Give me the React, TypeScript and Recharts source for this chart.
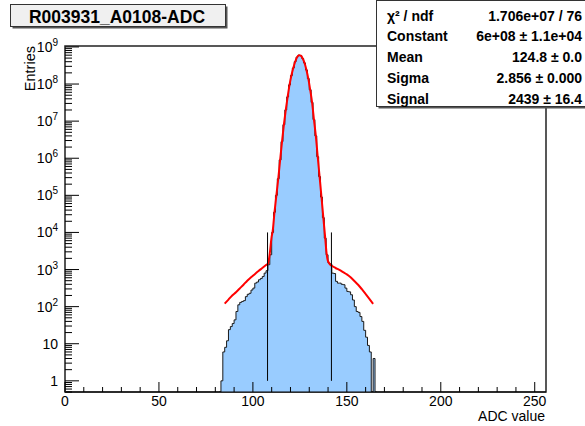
import React from "react";
import {
  ComposedChart,
  Area,
  Line,
  XAxis,
  YAxis,
  ReferenceLine,
  ReferenceArea,
} from "recharts";

const FONT = '"Liberation Sans", Arial, Helvetica, sans-serif';
const W = 585;
const H = 426;

const X_MIN = 0;
const X_MAX = 256;
const Y_MIN = 0.5;
const Y_MAX = 1.06e9;

// ADC histogram: one entry per 1-count bin, first bin starts at FIRST_BIN
const FIRST_BIN = 82;
const binEntries = [
  0, 1, 6, 8, 12, 24, 29, 35, 44, 74, // 82-91
  112, 130, 138, 145, 186, 215, 229, 280, 316, 430, // 92-101
  460, 530, 575, 650, 800, 930, 1350, 2500, 10000, 35000, // 102-111
  1.0e5, 2.8e5, 9e5, 2.8e6, 8e6, 2e7, 4.5e7, 9.5e7, 1.7e8, 2.7e8, // 112-121
  4.0e8, 5.3e8, 6.0e8, 5.8e8, 4.9e8, 3.7e8, 2.4e8, 1.4e8, 7e7, 3.2e7, // 122-131
  1.1e7, 4e6, 1.1e6, 3.2e5, 9e4, 2.5e4, 7000, 2500, 1500, 1400, // 132-141
  800, 780, 480, 430, 430, 400, 390, 316, 257, 250, // 142-151
  209, 151, 100, 74, 70, 54, 40, 23, 15, 9, // 152-161
  6, 0, 4, 0, // 162-165
];

// red fit curve (gaus + background)
const fitAdc = [
  85, 87, 89, 91, 93, 95, 97, 99, 101, 103, 105, 107, 108, 108.5, 109, 110,
  110.5, 111.5, 112.5, 113.5, 114.5, 115.5, 116.5, 117.5, 118.5, 119.5, 120.5,
  121.5, 122.5, 123.5, 124.5, 125.5, 126.5, 127.5, 128.5, 129.5, 130.5, 131.5,
  132.5, 133.5, 134.5, 135.5, 136.5, 137.5, 138.5, 139.2, 139.7, 140.5, 142,
  144, 146, 148, 150, 152, 154, 156, 158, 160, 162, 164,
];
const fitEntries = [
  120, 155, 200, 245, 309, 389, 500, 617, 750, 912, 1096, 1318, 1445, 1820, 2750, 7800,
  1.05e4, 3.5e4, 1.0e5, 2.8e5, 9e5, 2.8e6, 8e6, 2e7, 4.5e7, 9.5e7, 1.7e8,
  2.7e8, 4.0e8, 5.3e8, 6.0e8, 5.8e8, 4.9e8, 3.7e8, 2.4e8, 1.4e8, 7e7, 3.2e7,
  1.1e7, 4e6, 1.1e6, 3.2e5, 9e4, 2.5e4, 7000, 2800, 1900, 1500, 1260,
  1100, 977, 851, 741, 617, 490, 389, 295, 219, 162, 119,
];

// signal window markers
const windowAdc = [107.8, 141.8];
const windowEntries = [1, 1e4];

const xTicks = [0, 10, 20, 30, 40, 50, 60, 70, 80, 90, 100, 110, 120, 130, 140, 150, 160, 170, 180, 190, 200, 210, 220, 230, 240, 250];

const statsRows = [
  ["χ² / ndf", "1.706e+07 / 76"],
  ["Constant", "6e+08 ± 1.1e+04"],
  ["Mean", "124.8 ± 0.0"],
  ["Sigma", "2.856 ± 0.000"],
  ["Signal", "2439 ± 16.4"],
];

const yTicks: number[] = [];
for (let e = -1; e <= 9; e++) {
  for (let m = 1; m <= 9; m++) {
    const v = m * Math.pow(10, e);
    if (v >= Y_MIN && v <= Y_MAX) yTicks.push(v);
  }
}

const floor = (v: number) => (v > 0 ? v : Y_MIN);

const histData = [
  ...binEntries.map((c, i) => ({ x: FIRST_BIN + i, count: floor(c) })),
  { x: FIRST_BIN + binEntries.length, count: Y_MIN },
];
const fitData = fitAdc.map((x, i) => ({ x, fit: fitEntries[i] }));

function XTick(props: any) {
  const { x, y, payload } = props;
  const v = payload.value;
  const major = v % 50 === 0;
  return (
    <g>
      <line x1={x} x2={x} y1={y} y2={y - (major ? 10 : 5)} stroke="#000" strokeWidth={1} />
      {major && (
        <text x={x} y={y + 14} textAnchor="middle" fontSize={14} fontFamily={FONT} fill="#000">
          {v}
        </text>
      )}
    </g>
  );
}

function YTick(props: any) {
  const { x, y, payload } = props;
  const v = payload.value;
  const lg = Math.log10(v);
  const e = Math.round(lg);
  const major = Math.abs(lg - e) < 1e-6;
  return (
    <g>
      <line x1={x} x2={x + (major ? 14 : 7)} y1={y} y2={y} stroke="#000" strokeWidth={1} />
      {major && (
        <text x={x - 7} y={y + 5} textAnchor="end" fontSize={14} fontFamily={FONT} fill="#000">
          {e < 2 ? String(v) : (
            <>
              <tspan>10</tspan>
              <tspan dy={-6} fontSize={10}>{e}</tspan>
            </>
          )}
        </text>
      )}
    </g>
  );
}

export default function App() {
  return (
    <div style={{ position: "absolute", left: 0, top: 0, width: W, height: H, background: "#fff", fontFamily: FONT }}>
      <ComposedChart width={W} height={H} margin={{ top: 46, right: 39, bottom: 4, left: 5 }}>
        <ReferenceArea
          x1={X_MIN}
          x2={X_MAX}
          y1={Y_MIN}
          y2={Y_MAX}
          fill="none"
          stroke="#222"
          strokeWidth={1.5}
          ifOverflow="extendDomain"
        />
        <Area
          data={histData}
          dataKey="count"
          type="stepAfter"
          baseValue={Y_MIN}
          stroke="#1a1a1a"
          strokeWidth={1}
          fill="#99ccff"
          fillOpacity={1}
          dot={false}
          activeDot={false}
          isAnimationActive={false}
        />
        <Line
          data={fitData}
          dataKey="fit"
          type="monotone"
          stroke="#ff0000"
          strokeWidth={2}
          dot={false}
          activeDot={false}
          isAnimationActive={false}
        />
        {windowAdc.map((a) => (
          <ReferenceLine
            key={a}
            segment={[
              { x: a, y: windowEntries[0] },
              { x: a, y: windowEntries[1] },
            ]}
            stroke="#000"
            strokeWidth={1}
          />
        ))}
        <XAxis
          dataKey="x"
          type="number"
          domain={[X_MIN, X_MAX]}
          allowDataOverflow
          ticks={xTicks}
          interval={0}
          tick={<XTick />}
          tickLine={false}
          tickSize={0}
          tickMargin={0}
          axisLine={{ stroke: "#000", strokeWidth: 1 }}
          height={30}
        />
        <YAxis
          type="number"
          scale="log"
          domain={[Y_MIN, Y_MAX]}
          allowDataOverflow
          ticks={yTicks}
          interval={0}
          tick={<YTick />}
          tickLine={false}
          tickSize={0}
          tickMargin={0}
          axisLine={{ stroke: "#555", strokeWidth: 1.5 }}
          width={60}
        />
      </ComposedChart>
      <svg width={W} height={H} style={{ position: "absolute", left: 0, top: 0, pointerEvents: "none" }}>
        {/* title box */}
        <rect x={12.5} y={6.5} width={215} height={22} fill="#555" />
        <rect x={10.5} y={4.5} width={215} height={22} fill="#f0f0f0" stroke="#333" strokeWidth={1} />
        <text x={117} y={23} textAnchor="middle" fontSize={17.5} fontWeight="bold" fontFamily={FONT} fill="#000">
          R003931_A0108-ADC
        </text>
        {/* stats box */}
        <rect x={378.5} y={2} width={210} height={106.5} fill="#555" />
        <rect x={376.5} y={0.5} width={210} height={106} fill="#fff" stroke="#333" strokeWidth={1} />
        {statsRows.map(([k, v], i) => (
          <g key={k}>
            <text x={387} y={20.5 + i * 20.75} fontSize={14} fontWeight="bold" fontFamily={FONT} fill="#000">
              {k}
            </text>
            <text x={582} y={20.5 + i * 20.75} textAnchor="end" fontSize={14} fontWeight="bold" fontFamily={FONT} fill="#000">
              {v}
            </text>
          </g>
        ))}
        {/* axis titles */}
        <text
          x={35}
          y={46}
          transform="rotate(-90 35 46)"
          textAnchor="end"
          fontSize={14.5}
          fontFamily={FONT}
          fill="#000"
        >
          Entries
        </text>
        <text x={545} y={421} textAnchor="end" fontSize={14} fontFamily={FONT} fill="#000">
          ADC value
        </text>
      </svg>
    </div>
  );
}
